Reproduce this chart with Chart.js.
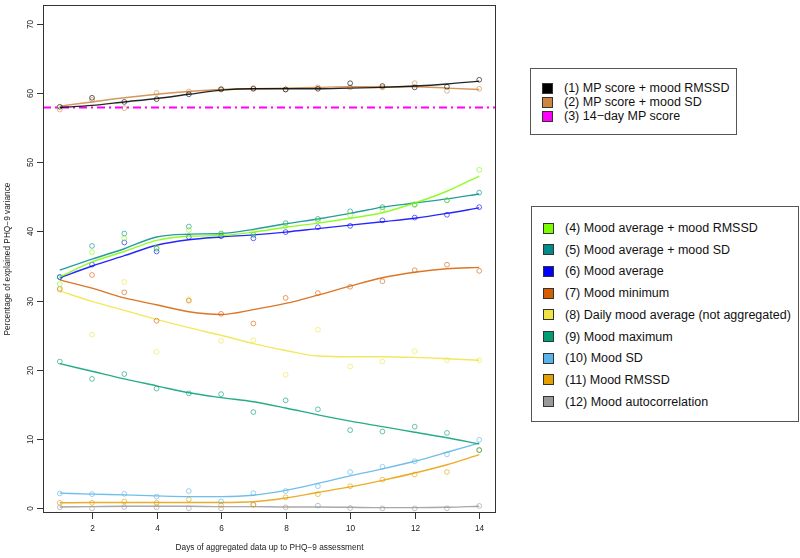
<!DOCTYPE html>
<html>
<head>
<meta charset="utf-8">
<script src="https://cdn.jsdelivr.net/npm/chart.js@4"></script>
<style>
  body { margin: 0; background: #fff; }
  #wrap { position: relative; width: 800px; height: 558px; font-family: "Liberation Sans", Arial, Helvetica, sans-serif; }
  canvas { position: absolute; left: 0; top: 0; }
  .lg { position: absolute; border: 1px solid #555; box-sizing: border-box; background: #fff; }
  .row { position: absolute; left: 11px; height: 20px; display: flex; align-items: center; font-size: 12.5px; color: #111; white-space: nowrap; }
  .sq { width: 9px; height: 9px; border: 1px solid #333; margin-right: 11px; }
</style>
</head>
<body>
<div id="wrap">
  <canvas id="chart" width="800" height="558"></canvas>
  <div class="lg" id="legendTop" style="left:530px; top:68px; width:207px; height:67px;"></div>
  <div class="lg" id="legendBottom" style="left:531px; top:206px; width:268px; height:216px;"></div>
</div>
<script>
// days of aggregated data
const days = [1, 2, 3, 4, 5, 6, 7, 8, 9, 10, 11, 12, 13, 14];
const xTicks = [2, 4, 6, 8, 10, 12, 14];
const yTicks = [0, 10, 20, 30, 40, 50, 60, 70];

// observed values (circles) and smoothed fits (lines), % explained variance
const mpRmssdPts = [58.0, 59.3, 58.7, 59.1, 59.8, 60.5, 60.6, 60.5, 60.6, 61.4, 61.0, 60.8, 60.9, 61.9];
const mpRmssdFit = [57.9, 58.2, 58.7, 59.2, 59.8, 60.4, 60.6, 60.6, 60.6, 60.7, 60.8, 61.0, 61.3, 61.7];
const mpSdPts = [57.6, 59.0, 57.8, 60.0, 60.2, 60.6, 60.7, 60.5, 60.8, 60.8, 60.8, 61.4, 60.3, 60.6];
const mpSdFit = [58.1, 58.7, 59.3, 59.8, 60.2, 60.5, 60.6, 60.7, 60.8, 60.9, 60.9, 60.9, 60.7, 60.5];
const mp14Day = 57.9;

const avgRmssdPts = [32.4, 37.0, 39.0, 37.7, 40.2, 39.6, 39.8, 40.8, 41.5, 42.3, 43.1, 43.8, 44.5, 48.9];
const avgRmssdFit = [33.4, 35.6, 37.1, 38.7, 39.3, 39.4, 39.9, 40.6, 41.2, 41.9, 42.7, 44.1, 45.8, 48.0];
const avgSdPts = [33.4, 37.9, 39.7, 37.5, 40.7, 39.7, 39.5, 41.2, 41.8, 42.9, 43.5, 43.9, 44.5, 45.6];
const avgSdFit = [34.4, 36.0, 37.5, 39.2, 39.6, 39.7, 40.3, 41.1, 41.8, 42.6, 43.5, 44.1, 44.7, 45.4];
const avgPts = [33.4, 35.2, 38.4, 37.1, 39.2, 39.3, 39.0, 39.9, 40.6, 40.8, 41.6, 42.0, 42.4, 43.5];
const avgFit = [33.3, 35.0, 36.5, 38.0, 38.8, 39.2, 39.5, 39.9, 40.4, 40.9, 41.4, 41.9, 42.6, 43.4];
const minPts = [31.7, 33.7, 31.2, 27.1, 30.0, 28.1, 26.7, 30.4, 31.1, 32.0, 32.8, 34.4, 35.2, 34.3];
const minFit = [33.0, 31.8, 30.4, 29.4, 28.4, 28.0, 28.7, 29.6, 30.8, 32.1, 33.3, 34.1, 34.6, 34.8];
const dailyPts = [31.5, 25.1, 32.7, 22.6, 30.2, 24.2, 24.3, 19.3, 25.8, 20.5, 21.2, 22.7, 21.4, 21.4];
const dailyFit = [31.4, 29.9, 28.6, 27.3, 26.1, 25.0, 23.8, 22.8, 22.0, 21.9, 21.9, 21.8, 21.6, 21.4];
const maxPts = [21.2, 18.7, 19.4, 17.3, 16.6, 16.5, 13.9, 15.6, 14.3, 11.3, 11.1, 11.8, 10.9, 8.4];
const maxFit = [20.9, 19.8, 18.7, 17.7, 16.7, 16.0, 15.4, 14.5, 13.5, 12.6, 11.8, 11.0, 10.2, 9.3];
const sdPts = [2.15, 2.05, 2.1, 1.7, 2.5, 1.0, 2.2, 2.5, 3.2, 5.25, 6.0, 6.8, 7.8, 9.9];
const sdFit = [2.2, 2.05, 1.95, 1.8, 1.7, 1.7, 1.9, 2.6, 3.6, 4.7, 5.7, 6.8, 8.1, 9.45];
const rmssdPts = [0.8, 0.8, 1.0, 0.8, 1.3, 0.45, 0.5, 1.6, 2.05, 3.2, 4.15, 4.9, 5.25, 8.45];
const rmssdFit = [0.8, 0.85, 0.85, 0.85, 0.85, 0.85, 0.95, 1.5, 2.3, 3.1, 4.05, 5.1, 6.3, 7.75];
const autoPts = [0.15, 0.0, 0.2, 0.15, 0.0, 0.0, 0.55, 0.15, 0.4, 0.05, 0.0, 0.0, 0.0, 0.35];
const autoFit = [0.2, 0.25, 0.3, 0.3, 0.3, 0.25, 0.25, 0.2, 0.2, 0.15, 0.1, 0.1, 0.15, 0.3];

const labelsTop = ['(1) MP score + mood RMSSD', '(2) MP score + mood SD', '(3) 14\u2212day MP score'];
const labelsBottom = ['(4) Mood average + mood RMSSD', '(5) Mood average + mood SD', '(6) Mood average',
  '(7) Mood minimum', '(8) Daily mood average (not aggregated)', '(9) Mood maximum',
  '(10) Mood SD', '(11) Mood RMSSD', '(12) Mood autocorrelation'];

const colorsTop = ['#000000', '#CD853F', '#FF00FF'];
const colorsBottom = ['#7CFC00', '#008B8B', '#0000FF', '#D55E00', '#F0E442', '#009E73', '#56B4E9', '#E69F00', '#999999'];

const xMin = 0.48, xMax = 14.52, yMin = -0.67, yMax = 72.7;

function alpha(hex, a) {
  const n = parseInt(hex.slice(1), 16);
  return `rgba(${n >> 16},${(n >> 8) & 255},${n & 255},${a})`;
}
const toXY = vals => days.map((d, i) => ({ x: d, y: vals[i] }));

const series = [
  [mpRmssdPts, mpRmssdFit, colorsTop[0]],
  [mpSdPts, mpSdFit, colorsTop[1]],
  [avgRmssdPts, avgRmssdFit, colorsBottom[0]],
  [avgSdPts, avgSdFit, colorsBottom[1]],
  [avgPts, avgFit, colorsBottom[2]],
  [minPts, minFit, colorsBottom[3]],
  [dailyPts, dailyFit, colorsBottom[4]],
  [maxPts, maxFit, colorsBottom[5]],
  [sdPts, sdFit, colorsBottom[6]],
  [rmssdPts, rmssdFit, colorsBottom[7]],
  [autoPts, autoFit, colorsBottom[8]]
];

const datasets = [];
series.forEach(([pts, fit, col]) => {
  datasets.push({
    data: toXY(pts), showLine: false, pointRadius: 2.4, pointBorderWidth: 1,
    pointBackgroundColor: 'rgba(0,0,0,0)', pointBorderColor: alpha(col, 0.6)
  });
  datasets.push({
    data: toXY(fit), borderColor: alpha(col, 0.85), borderWidth: 1.4, pointRadius: 0,
    cubicInterpolationMode: 'monotone', fill: false
  });
});
datasets.push({
  data: [{ x: xMin, y: mp14Day }, { x: xMax, y: mp14Day }],
  borderColor: colorsTop[2], borderWidth: 2, borderDash: [8, 4, 2, 4], pointRadius: 0
});

const rAxes = {
  id: 'rAxes',
  afterDraw(chart) {
    const { ctx, chartArea: a, scales: { x, y } } = chart;
    ctx.save();
    ctx.strokeStyle = '#333';
    ctx.lineWidth = 1;
    ctx.strokeRect(a.left + 0.5, a.top + 0.5, a.right - a.left - 1, a.bottom - a.top - 1);
    ctx.fillStyle = '#222';
    ctx.font = '8.3px "Liberation Sans", Arial, sans-serif';
    ctx.textAlign = 'center';
    ctx.textBaseline = 'middle';
    xTicks.forEach(v => {
      const px = Math.round(x.getPixelForValue(v)) + 0.5;
      ctx.beginPath(); ctx.moveTo(px, a.bottom); ctx.lineTo(px, a.bottom + 6); ctx.stroke();
      ctx.fillText(String(v), px, a.bottom + 16);
    });
    yTicks.forEach(v => {
      const py = Math.round(y.getPixelForValue(v)) + 0.5;
      ctx.beginPath(); ctx.moveTo(a.left, py); ctx.lineTo(a.left - 6, py); ctx.stroke();
      ctx.save();
      ctx.translate(a.left - 12, py);
      ctx.rotate(-Math.PI / 2);
      ctx.fillText(String(v), 0, 0);
      ctx.restore();
    });
    ctx.fillText('Days of aggregated data up to PHQ\u22129 assessment', (a.left + a.right) / 2, a.bottom + 35);
    ctx.save();
    ctx.translate(8, (a.top + a.bottom) / 2);
    ctx.rotate(-Math.PI / 2);
    ctx.fillText('Percentage of explained PHQ\u22129 variance', 0, 0);
    ctx.restore();
    ctx.restore();
  }
};

new Chart(document.getElementById('chart'), {
  type: 'line',
  data: { datasets },
  options: {
    responsive: false,
    animation: false,
    layout: { padding: { left: 43, top: 1, right: 304, bottom: 45 } },
    plugins: { legend: { display: false }, tooltip: { enabled: false } },
    scales: {
      x: { type: 'linear', min: xMin, max: xMax, display: false },
      y: { type: 'linear', min: yMin, max: yMax, display: false }
    }
  },
  plugins: [rAxes]
});

function buildLegend(id, labels, colors, firstRow, step) {
  const box = document.getElementById(id);
  labels.forEach((lab, i) => {
    const row = document.createElement('div');
    row.className = 'row';
    row.style.top = (firstRow + i * step - 10) + 'px';
    row.innerHTML = `<span class="sq" style="background:${colors[i]}"></span><span>${lab}</span>`;
    box.appendChild(row);
  });
}
buildLegend('legendTop', labelsTop, colorsTop, 19, 14);
buildLegend('legendBottom', labelsBottom, colorsBottom, 21, 21.7);
</script>
</body>
</html>
